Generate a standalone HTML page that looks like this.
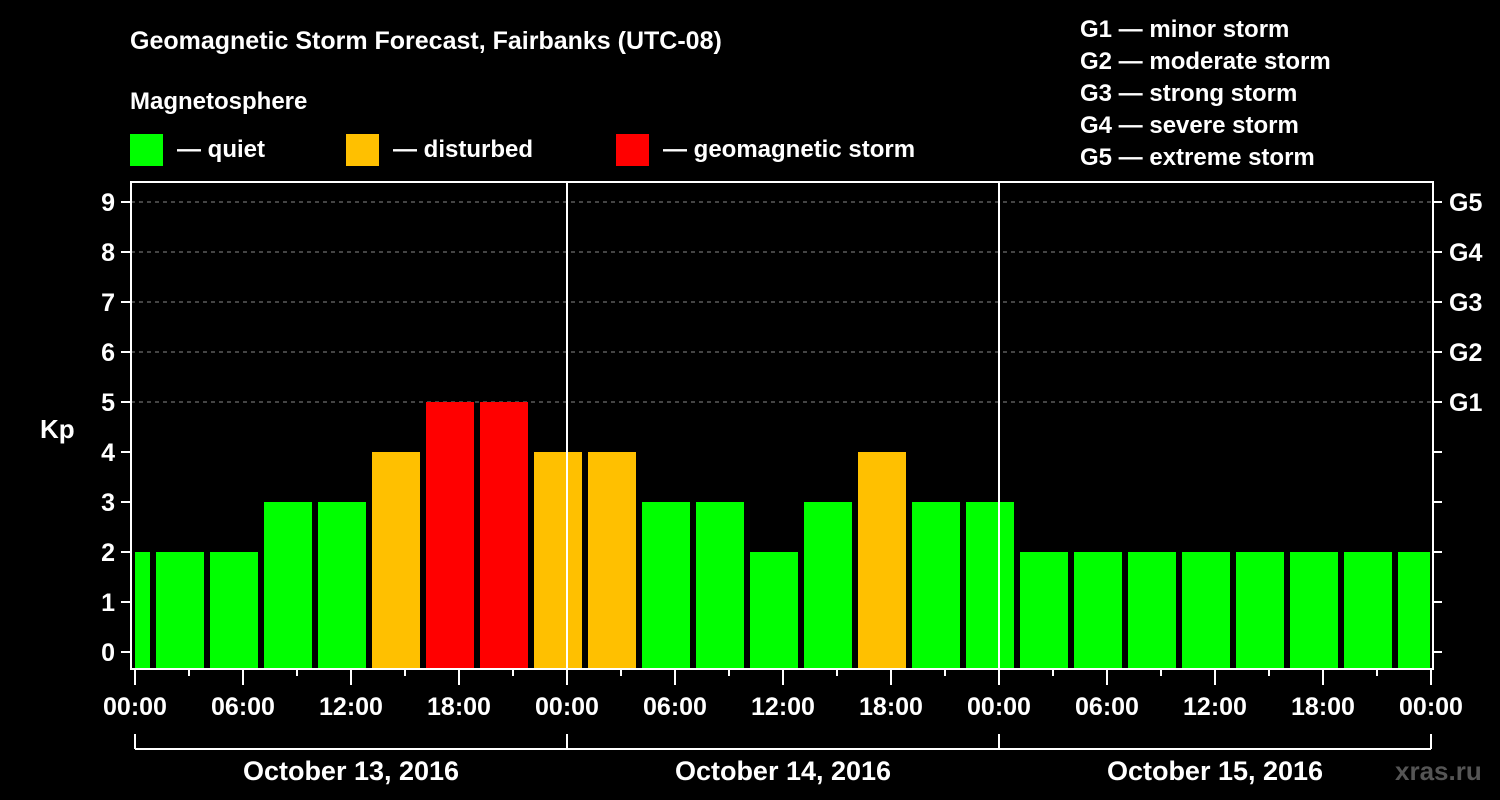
<!DOCTYPE html>
<html><head><meta charset="utf-8"><style>
html,body{margin:0;padding:0;background:#000;}
svg{display:block;font-family:"Liberation Sans",Arial,sans-serif;font-weight:bold;}
</style></head><body>
<svg id="c" width="1500" height="800" viewBox="0 0 1500 800">
<text x="130" y="49" fill="#fff" font-size="25">Geomagnetic Storm Forecast, Fairbanks (UTC-08)</text>
<text x="130" y="109" fill="#fff" font-size="24">Magnetosphere</text>
<g><rect x="130" y="134" width="33" height="32" fill="#00ff00"/><text x="177" y="157" fill="#fff" font-size="24">— quiet</text></g>
<g><rect x="346" y="134" width="33" height="32" fill="#ffc000"/><text x="393" y="157" fill="#fff" font-size="24">— disturbed</text></g>
<g><rect x="616" y="134" width="33" height="32" fill="#ff0000"/><text x="663" y="157" fill="#fff" font-size="24">— geomagnetic storm</text></g>
<g fill="#fff" font-size="24">
<text x="1080" y="37">G1 — minor storm</text>
<text x="1080" y="69">G2 — moderate storm</text>
<text x="1080" y="101">G3 — strong storm</text>
<text x="1080" y="133">G4 — severe storm</text>
<text x="1080" y="165">G5 — extreme storm</text>
</g>
<text x="40" y="438" fill="#fff" font-size="26">Kp</text>
<text x="1395" y="780" fill="#555" font-size="26">xras.ru</text>
<defs><clipPath id="pc"><rect x="135" y="182" width="1295" height="487"/></clipPath></defs>
<g id="grid"></g><g id="bars" clip-path="url(#pc)"></g><g id="axes"></g>
</svg>
<script>
const kpValues=[2,2,2,3,3,4,5,5,4,4,3,3,2,3,4,3,3,2,2,2,2,2,2,2,2];
const yTicks=[0,1,2,3,4,5,6,7,8,9];
const gLabels=["G1","G2","G3","G4","G5"];
const timeLabels=["00:00","06:00","12:00","18:00","00:00","06:00","12:00","18:00","00:00","06:00","12:00","18:00","00:00"];
const dayLabels=["October 13, 2016","October 14, 2016","October 15, 2016"];
const NS="http://www.w3.org/2000/svg";
const X0=135,HPX=18,Y0=652,UPX=50,L=131,R=1433,T=182,B=669;
const xh=h=>X0+h*HPX, y=v=>Y0-v*UPX;
function mk(p,t,a){const e=document.createElementNS(NS,t);for(const k in a)e.setAttribute(k,a[k]);p.appendChild(e);return e;}
const grid=document.getElementById('grid'),bars=document.getElementById('bars'),axes=document.getElementById('axes');
for(let v=5;v<=9;v++){const l=mk(grid,'line',{x1:L,x2:R,y1:y(v),y2:y(v),stroke:'#888','stroke-dasharray':'4,4','stroke-width':1});

}
kpValues.forEach((v,i)=>{const c=xh(-0.5+3*i);const col=v>=5?'#ff0000':(v>=4?'#ffc000':'#00ff00');
const r=mk(bars,'rect',{x:c-24,y:y(v),width:48,height:B-y(v),fill:col});

});
for(let d=1;d<=2;d++){const l=mk(axes,'line',{x1:xh(24*d),x2:xh(24*d),y1:T,y2:B,stroke:'#fff','stroke-width':2});

}
const fr=mk(axes,'rect',{x:L,y:T,width:R-L,height:B-T,fill:'none',stroke:'#fff','stroke-width':2});


yTicks.forEach(v=>{mk(axes,'line',{x1:121,x2:L,y1:y(v),y2:y(v),stroke:'#fff','stroke-width':2});
mk(axes,'line',{x1:R,x2:1442,y1:y(v),y2:y(v),stroke:'#fff','stroke-width':2});
const t=mk(axes,'text',{x:115,y:y(v)+9,fill:'#fff','font-size':25,'text-anchor':'end'});t.textContent=v;

});
gLabels.forEach((g,i)=>{const t=mk(axes,'text',{x:1449,y:y(5+i)+9,fill:'#fff','font-size':25});t.textContent=g;

});
for(let h=0;h<=72;h+=3){const maj=h%6===0;mk(axes,'line',{x1:xh(h),x2:xh(h),y1:B,y2:B+(maj?16:7),stroke:'#fff','stroke-width':2});}
timeLabels.forEach((s,i)=>{const t=mk(axes,'text',{x:xh(6*i),y:715,fill:'#fff','font-size':25,'text-anchor':'middle'});t.textContent=s;

});
mk(axes,'line',{x1:xh(0),x2:xh(72),y1:749,y2:749,stroke:'#fff','stroke-width':2});
for(let d=0;d<=3;d++)mk(axes,'line',{x1:xh(24*d),x2:xh(24*d),y1:734,y2:749,stroke:'#fff','stroke-width':2});
dayLabels.forEach((s,i)=>{const t=mk(axes,'text',{x:xh(24*i+12),y:780,fill:'#fff','font-size':27,'text-anchor':'middle'});t.textContent=s;

});
</script>
</body></html>
